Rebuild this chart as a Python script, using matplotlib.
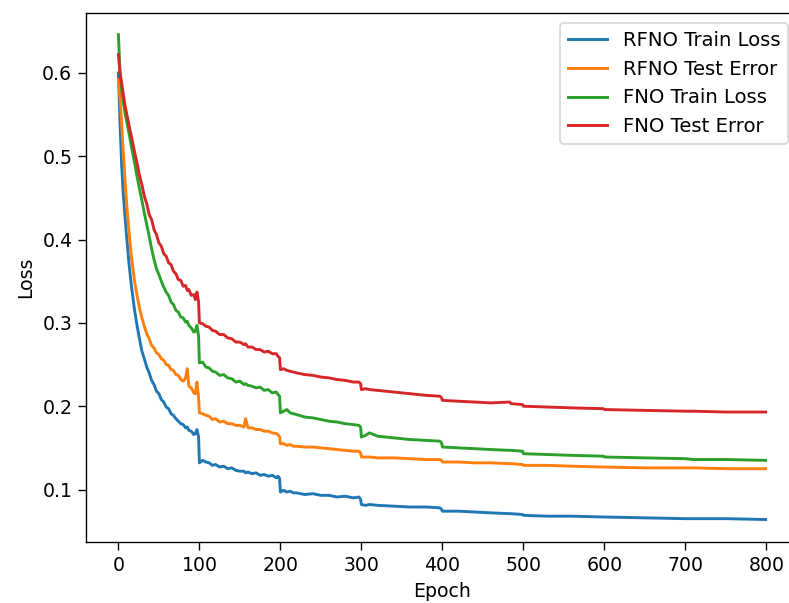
import matplotlib
matplotlib.use("Agg")
import matplotlib.pyplot as plt

epochs = [0, 2, 4, 6, 8, 10, 13, 16, 20, 23, 26, 29, 32, 35, 38, 41, 44, 47, 50, 53,
          56, 59, 62, 65, 68, 71, 74, 77, 80, 83, 85, 87, 90, 93, 95, 97, 99,
          100, 104, 108, 112, 116, 120, 125, 130, 135, 140, 145, 150, 155, 157, 160,
          165, 170, 175, 180, 185, 190, 195, 197, 199,
          200, 204, 208, 212, 216, 220, 230, 240, 250, 260, 270, 280, 290, 297, 299,
          300, 305, 310, 320, 340, 360, 380, 397, 399, 400, 420, 440, 460, 483, 485,
          499, 500, 530, 560, 599, 600, 650, 700, 710, 750, 799]

rfno_train = [0.600, 0.540, 0.490, 0.455, 0.430, 0.405, 0.372, 0.345, 0.315, 0.297,
              0.281, 0.266, 0.257, 0.247, 0.240, 0.231, 0.226, 0.218, 0.215, 0.208,
              0.205, 0.199, 0.197, 0.191, 0.189, 0.185, 0.182, 0.179, 0.178, 0.174,
              0.175, 0.171, 0.170, 0.166, 0.167, 0.172, 0.163,
              0.132, 0.135, 0.133, 0.132, 0.129, 0.130, 0.127, 0.128, 0.125, 0.126,
              0.123, 0.122, 0.122, 0.120, 0.121, 0.119, 0.120, 0.117, 0.118, 0.116,
              0.117, 0.114, 0.116, 0.113,
              0.097, 0.099, 0.097, 0.098, 0.096, 0.096, 0.094, 0.095, 0.093, 0.093,
              0.091, 0.092, 0.090, 0.091, 0.088,
              0.082, 0.081, 0.082, 0.081, 0.080, 0.079, 0.079, 0.078, 0.076, 0.074,
              0.074, 0.073, 0.072, 0.071, 0.071, 0.070, 0.069, 0.068, 0.068, 0.067,
              0.067, 0.066, 0.065, 0.065, 0.065, 0.064]

rfno_test = [0.592, 0.570, 0.540, 0.505, 0.475, 0.445, 0.410, 0.380, 0.350, 0.333,
             0.318, 0.306, 0.296, 0.287, 0.281, 0.273, 0.270, 0.264, 0.262, 0.257,
             0.255, 0.250, 0.249, 0.244, 0.243, 0.238, 0.237, 0.232, 0.230, 0.234,
             0.245, 0.224, 0.222, 0.216, 0.215, 0.229, 0.210,
             0.192, 0.191, 0.189, 0.188, 0.184, 0.185, 0.181, 0.182, 0.179, 0.179,
             0.177, 0.177, 0.175, 0.185, 0.174, 0.174, 0.172, 0.172, 0.170, 0.170,
             0.168, 0.167, 0.166, 0.163,
             0.155, 0.155, 0.153, 0.154, 0.152, 0.152, 0.151, 0.151, 0.150, 0.149,
             0.148, 0.147, 0.146, 0.146, 0.144,
             0.139, 0.139, 0.139, 0.138, 0.138, 0.137, 0.136, 0.136, 0.135, 0.133,
             0.133, 0.132, 0.132, 0.131, 0.131, 0.130, 0.129, 0.129, 0.128, 0.127,
             0.127, 0.126, 0.126, 0.126, 0.125, 0.125]

fno_train = [0.646, 0.600, 0.580, 0.565, 0.553, 0.543, 0.528, 0.512, 0.492, 0.476,
             0.461, 0.447, 0.432, 0.418, 0.404, 0.389, 0.376, 0.365, 0.358, 0.350,
             0.343, 0.337, 0.333, 0.325, 0.322, 0.315, 0.313, 0.307, 0.306, 0.301,
             0.302, 0.297, 0.294, 0.289, 0.290, 0.297, 0.284,
             0.252, 0.253, 0.247, 0.246, 0.242, 0.241, 0.237, 0.238, 0.234, 0.233,
             0.229, 0.230, 0.226, 0.227, 0.225, 0.224, 0.222, 0.223, 0.219, 0.220,
             0.216, 0.217, 0.214, 0.212,
             0.192, 0.194, 0.196, 0.192, 0.191, 0.190, 0.187, 0.186, 0.184, 0.182,
             0.181, 0.179, 0.178, 0.177, 0.175,
             0.163, 0.165, 0.168, 0.164, 0.162, 0.160, 0.159, 0.158, 0.156, 0.151,
             0.150, 0.149, 0.148, 0.147, 0.147, 0.146, 0.143, 0.142, 0.141, 0.140,
             0.139, 0.138, 0.137, 0.136, 0.136, 0.135]

fno_test = [0.622, 0.600, 0.588, 0.575, 0.562, 0.552, 0.538, 0.524, 0.505, 0.492,
            0.477, 0.466, 0.452, 0.443, 0.430, 0.424, 0.412, 0.406, 0.396, 0.392,
            0.383, 0.380, 0.372, 0.370, 0.362, 0.359, 0.352, 0.351, 0.344, 0.345,
            0.339, 0.340, 0.333, 0.334, 0.328, 0.337, 0.325,
            0.300, 0.299, 0.296, 0.295, 0.291, 0.290, 0.286, 0.286, 0.282, 0.281,
            0.277, 0.277, 0.274, 0.275, 0.271, 0.271, 0.268, 0.268, 0.265, 0.266,
            0.263, 0.263, 0.260, 0.258,
            0.244, 0.245, 0.243, 0.242, 0.241, 0.240, 0.238, 0.237, 0.235, 0.234,
            0.232, 0.231, 0.229, 0.229, 0.227,
            0.220, 0.221, 0.220, 0.219, 0.217, 0.215, 0.213, 0.212, 0.210, 0.207,
            0.206, 0.205, 0.204, 0.205, 0.203, 0.202, 0.200, 0.199, 0.198, 0.197,
            0.196, 0.195, 0.194, 0.194, 0.193, 0.193]

labels = ["RFNO Train Loss", "RFNO Test Error", "FNO Train Loss", "FNO Test Error"]
series = [rfno_train, rfno_test, fno_train, fno_test]

dpi = 100 * 789 / 640
fig = plt.figure(figsize=(789 / dpi, 603 / dpi), dpi=dpi)
ax = fig.add_axes([86 / 789, 61 / 603, 712 / 789, 529 / 603])

for vals, lab in zip(series, labels):
    ax.plot(epochs[:len(vals)], vals, label=lab, linewidth=1.7)

ax.set_xlim(-40, 839)
ax.set_ylim(0.037, 0.672)
ax.set_xticks([0, 100, 200, 300, 400, 500, 600, 700, 800])
ax.set_yticks([0.1, 0.2, 0.3, 0.4, 0.5, 0.6])
ax.tick_params(labelsize=11, length=4.5)
ax.set_xlabel("Epoch", fontsize=11)
ax.set_ylabel("Loss", fontsize=11)
ax.spines["right"].set_visible(False)
ax.legend(loc="upper right", fontsize=11.5)

fig.savefig("out.png", dpi=dpi)
